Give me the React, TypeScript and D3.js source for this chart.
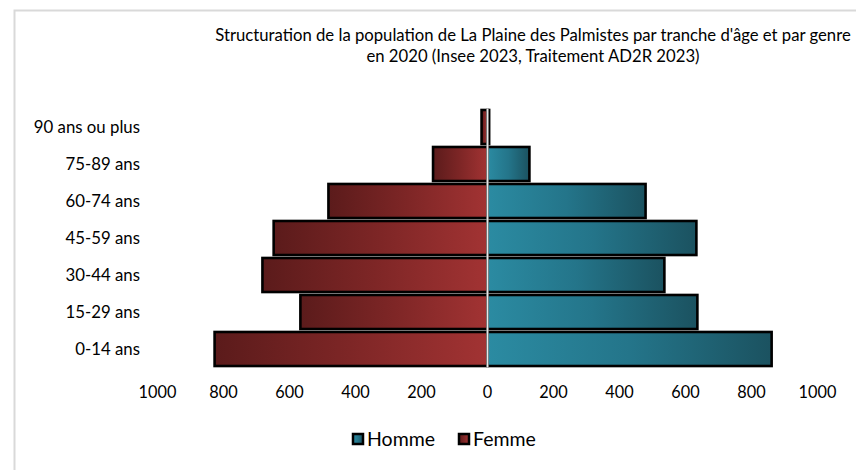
import React from "react";
import * as d3 from "d3";

const categories = ["0-14 ans", "15-29 ans", "30-44 ans", "45-59 ans", "60-74 ans", "75-89 ans", "90 ans ou plus"];
const homme = [861, 636, 536, 633, 479, 127, 5];
const femme = [827, 567, 682, 648, 482, 165, 18];
const tickValues = [-1000, -800, -600, -400, -200, 0, 200, 400, 600, 800, 1000];
const titleLines = [
  "Structuration de la population de La Plaine des Palmistes par tranche d'âge et par genre",
  "en 2020 (Insee 2023, Traitement AD2R 2023)",
];
const seriesNames = ["Homme", "Femme"];

const W = 856;
const H = 470;
const FONT = "Lato, 'Open Sans', sans-serif";

export default function App() {
  const x = d3.scaleLinear().domain([-1000, 1000]).range([157.5, 817.5]);
  const y = d3
    .scaleBand<string>()
    .domain([...categories].reverse())
    .range([108.5, 367.5])
    .paddingInner(0.08)
    .paddingOuter(0.04);

  return (
    <svg
      width={W}
      height={H}
      style={{ position: "absolute", left: 0, top: 0, background: "#fff" }}
      fontFamily={FONT}
    >
      <defs>
        <linearGradient id="gF" x1="0" y1="0" x2="1" y2="0">
          <stop offset="0" stopColor="#5b1b1b" />
          <stop offset="0.5" stopColor="#7e2626" />
          <stop offset="1" stopColor="#a23333" />
        </linearGradient>
        <linearGradient id="gH" x1="0" y1="0" x2="1" y2="0">
          <stop offset="0" stopColor="#2b8ba2" />
          <stop offset="0.5" stopColor="#24758a" />
          <stop offset="1" stopColor="#1b5260" />
        </linearGradient>
      </defs>
      <rect x={14.5} y={10.5} width={W + 20} height={H + 20} fill="#fff" stroke="#d9d9d9" strokeWidth={2} />

      {titleLines.map((t, i) => (
        <text
          key={i}
          x={533}
          y={41 + i * 21}
          textAnchor="middle"
          fontSize={16.7}
          fill="#000"
        >
          {t}
        </text>
      ))}

      {categories.map((c, i) => (
        <g key={c}>
          <rect
            x={x(-femme[i])}
            y={y(c)!}
            width={x(0) - x(-femme[i])}
            height={y.bandwidth()}
            fill="url(#gF)"
            stroke="#000"
            strokeWidth={2.6}
          />
          <rect
            x={x(0)}
            y={y(c)!}
            width={x(homme[i]) - x(0)}
            height={y.bandwidth()}
            fill="url(#gH)"
            stroke="#000"
            strokeWidth={2.6}
          />
        </g>
      ))}

      <line x1={x(0)} x2={x(0)} y1={108.5} y2={367.5} stroke="#e8e8e8" strokeWidth={2} />

      {categories.map((c) => (
        <text
          key={c}
          x={140}
          y={y(c)! + y.bandwidth() / 2}
          dy="0.35em"
          textAnchor="end"
          fontSize={16.8}
          fill="#000"
        >
          {c}
        </text>
      ))}

      {tickValues.map((v) => (
        <text key={v} x={x(v)} y={398} textAnchor="middle" fontSize={16.3} fill="#000">
          {Math.abs(v)}
        </text>
      ))}

      <g>
        <rect x={353} y={434} width={10} height={10} fill="url(#gH)" stroke="#000" strokeWidth={2.5} />
        <text x={367} y={439} dy="0.36em" fontSize={19.5} fill="#000">
          {seriesNames[0]}
        </text>
        <rect x={459} y={434} width={10} height={10} fill="url(#gF)" stroke="#000" strokeWidth={2.5} />
        <text x={473} y={439} dy="0.36em" fontSize={19.5} fill="#000">
          {seriesNames[1]}
        </text>
      </g>
    </svg>
  );
}
